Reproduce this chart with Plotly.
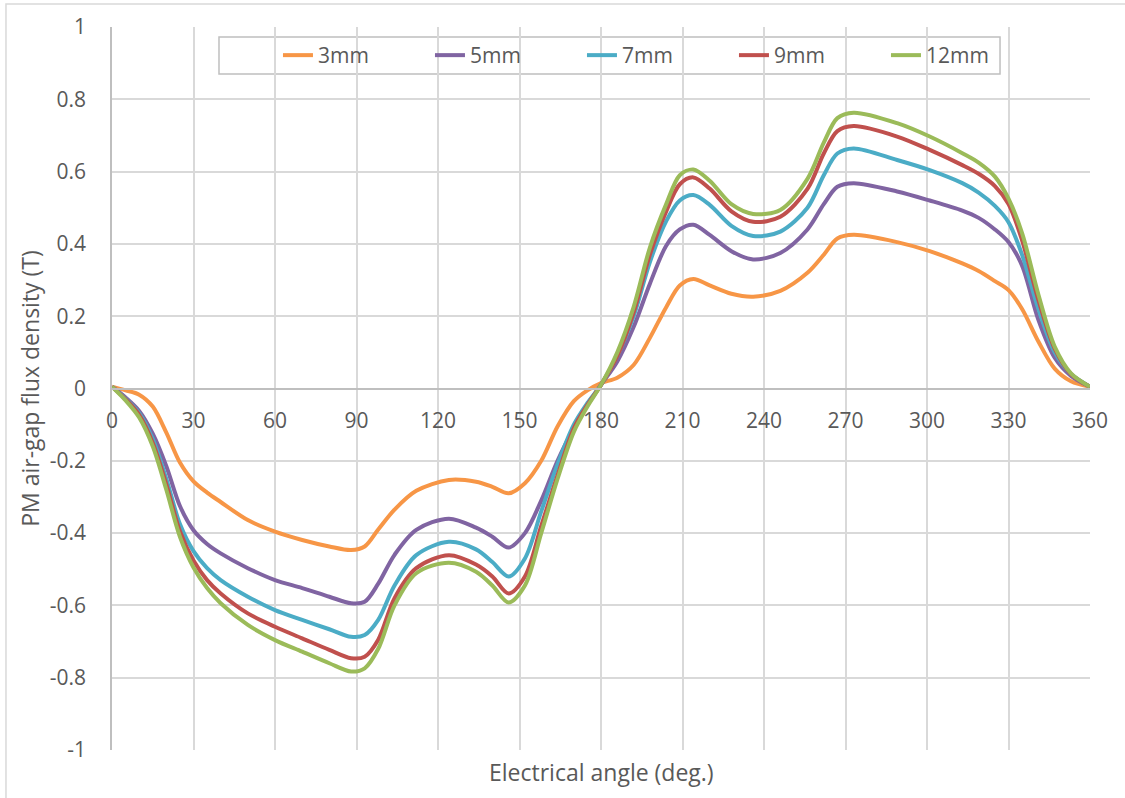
import plotly.graph_objects as go

# Electrical angle samples (deg.)
angle = [0, 5, 10, 15, 20, 25, 30, 35, 40, 50, 60, 70, 80, 88, 93, 98, 104, 112, 124, 134, 140,
         146, 152, 158, 164, 170, 175, 180, 186, 192, 198, 204, 209, 214, 220, 228, 236, 246,
         256, 262, 267, 273, 289, 301, 313, 319, 325, 330, 335, 341, 347, 353, 360]

# PM air-gap flux density (T) for each magnet thickness
b_3mm = [0.005, -0.005, -0.017, -0.05, -0.122, -0.205, -0.257, -0.288, -0.314, -0.364, -0.396,
         -0.419, -0.437, -0.447, -0.437, -0.39, -0.335, -0.283, -0.253, -0.258, -0.272, -0.29,
         -0.262, -0.2, -0.105, -0.035, -0.005, 0.015, 0.03, 0.065, 0.14, 0.225, 0.285, 0.303,
         0.285, 0.262, 0.254, 0.27, 0.32, 0.37, 0.415, 0.425, 0.405, 0.38, 0.346, 0.325, 0.297,
         0.272, 0.22, 0.13, 0.055, 0.02, 0.005]
b_5mm = [0.005, -0.025, -0.062, -0.125, -0.215, -0.325, -0.392, -0.43, -0.456, -0.497, -0.53,
         -0.552, -0.576, -0.594, -0.59, -0.54, -0.46, -0.391, -0.36, -0.385, -0.41, -0.44, -0.4,
         -0.31, -0.2, -0.11, -0.045, 0.01, 0.075, 0.17, 0.29, 0.395, 0.44, 0.453, 0.425, 0.38,
         0.357, 0.375, 0.44, 0.51, 0.558, 0.568, 0.545, 0.52, 0.492, 0.472, 0.44, 0.405, 0.34,
         0.19, 0.085, 0.035, 0.005]
b_7mm = [0.005, -0.028, -0.068, -0.14, -0.25, -0.375, -0.45, -0.497, -0.53, -0.576, -0.613,
         -0.64, -0.666, -0.687, -0.682, -0.64, -0.545, -0.461, -0.424, -0.445, -0.48, -0.52,
         -0.47, -0.34, -0.21, -0.1, -0.04, 0.01, 0.09, 0.2, 0.35, 0.463, 0.52, 0.535, 0.508,
         0.45, 0.422, 0.434, 0.5, 0.59, 0.65, 0.664, 0.632, 0.604, 0.568, 0.542, 0.505, 0.46,
         0.37, 0.22, 0.1, 0.04, 0.005]
b_9mm = [0.005, -0.03, -0.073, -0.15, -0.265, -0.395, -0.476, -0.53, -0.567, -0.622, -0.659,
         -0.691, -0.723, -0.746, -0.742, -0.695, -0.58, -0.497, -0.461, -0.487, -0.52, -0.567,
         -0.52, -0.38, -0.24, -0.11, -0.045, 0.01, 0.09, 0.21, 0.37, 0.49, 0.565, 0.584, 0.553,
         0.49, 0.461, 0.475, 0.552, 0.65, 0.712, 0.726, 0.697, 0.66, 0.618, 0.594, 0.56, 0.51,
         0.41, 0.245, 0.11, 0.04, 0.005]
b_12mm = [0.005, -0.033, -0.08, -0.16, -0.28, -0.41, -0.495, -0.552, -0.594, -0.654, -0.696,
          -0.728, -0.76, -0.783, -0.774, -0.72, -0.6, -0.511, -0.482, -0.507, -0.545, -0.592,
          -0.545, -0.4, -0.25, -0.12, -0.05, 0.01, 0.1, 0.225, 0.39, 0.51, 0.59, 0.606, 0.575,
          0.51, 0.483, 0.494, 0.58, 0.68, 0.748, 0.763, 0.734, 0.697, 0.651, 0.625, 0.586, 0.525,
          0.43, 0.26, 0.116, 0.042, 0.005]

series_names = ["3mm", "5mm", "7mm", "9mm", "12mm"]
series_values = [b_3mm, b_5mm, b_7mm, b_9mm, b_12mm]
series_colors = ["#F79646", "#8064A2", "#4BACC6", "#C0504D", "#9BBB59"]

x_ticks = [0, 30, 60, 90, 120, 150, 180, 210, 240, 270, 300, 330, 360]
y_ticks = [1, 0.8, 0.6, 0.4, 0.2, 0, -0.2, -0.4, -0.6, -0.8, -1]
y_tick_text = ["1", "0.8", "0.6", "0.4", "0.2", "0", "-0.2", "-0.4", "-0.6", "-0.8", "-1"]

FONT = "Open Sans"
TEXT = "#595959"
GRID = "#d9d9d9"
AXIS = "#bfbfbf"

fig = go.Figure()
for name, vals, col in zip(series_names, series_values, series_colors):
    fig.add_trace(go.Scatter(
        x=angle, y=vals, name=name, mode="lines",
        line=dict(color=col, width=4, shape="spline", smoothing=0.9),
    ))

fig.update_layout(
    width=1125, height=798,
    margin=dict(l=112, r=35, t=27, b=48),
    paper_bgcolor="white", plot_bgcolor="white",
    font=dict(family=FONT, size=21, color=TEXT),
    showlegend=True,
    legend=dict(
        orientation="h", x=0.1697, xanchor="left", y=0.9606, yanchor="middle",
        bgcolor="rgba(0,0,0,0)", borderwidth=0,
        font=dict(family=FONT, size=21, color=TEXT),
        entrywidth=107, entrywidthmode="pixels",
        itemwidth=30,
    ),
    xaxis=dict(
        range=[0, 360], tickvals=x_ticks, ticktext=[str(v) for v in x_ticks],
        showgrid=True, gridcolor=GRID, gridwidth=1.5,
        zeroline=False, showline=True, linecolor=AXIS, linewidth=1.5,
        anchor="free", position=0.5, ticks="", ticklabelstandoff=14,
        tickfont=dict(family=FONT, size=21, color=TEXT),
    ),
    yaxis=dict(
        range=[-1, 1], tickvals=y_ticks, ticktext=y_tick_text,
        showgrid=True, gridcolor=GRID, gridwidth=1.5,
        zeroline=False, showline=True, linecolor=AXIS, linewidth=1.5,
        ticks="", ticklabelstandoff=20,
        tickfont=dict(family=FONT, size=21, color=TEXT),
        title=dict(text="PM air-gap flux density (T)", standoff=4,
                   font=dict(family=FONT, size=23, color=TEXT)),
    ),
    annotations=[dict(
        text="Electrical angle (deg.)", xref="paper", yref="paper",
        x=0.5, y=-0.0304, xanchor="center", yanchor="middle", showarrow=False,
        font=dict(family=FONT, size=23, color=TEXT),
    )],
    shapes=[
        # outer chart frame
        dict(type="rect", xref="paper", yref="paper",
             x0=-0.1084, x1=1.04, y0=-0.07, y1=1.0318,
             line=dict(color=GRID, width=1.5), layer="below"),
        # legend frame
        dict(type="rect", xref="paper", yref="paper",
             x0=0.1094, x1=0.908, y0=0.935, y1=0.986,
             line=dict(color=AXIS, width=1.5), fillcolor="white", layer="between"),
    ],
)

fig.write_html("out.html")
